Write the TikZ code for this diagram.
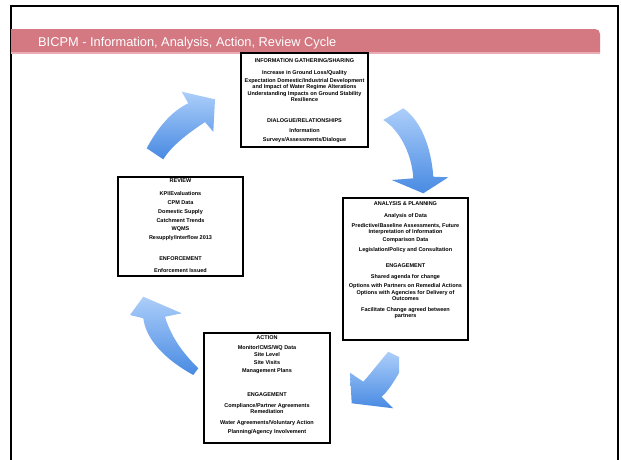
\documentclass[tikz,border=0pt]{standalone}
\usepackage{fontspec}
\setmainfont{Liberation Sans}
\usetikzlibrary{calc}
\definecolor{barred}{RGB}{212,120,130}
\definecolor{barlight}{RGB}{234,172,180}
\definecolor{arrtop}{RGB}{172,206,250}
\definecolor{arrbot}{RGB}{72,138,226}
\tikzset{
  cyclebox/.style={draw=black, line width=1.6pt, fill=white, inner sep=0pt},
  boxtext/.style={font=\bfseries\fontsize{5.5}{6}\selectfont, align=center, inner sep=0pt, anchor=north},
  blockarrow/.style={top color=arrtop, bottom color=arrbot, draw=none},
}
\begin{document}
\begin{tikzpicture}[x=1pt,y=-1pt]
\useasboundingbox (0,0) rectangle (621,459);
\clip (0,0) rectangle (621,459);
\fill[white] (0,0) rectangle (621,459);
\draw[line width=2pt] (11,6) rectangle (618,480);
% title bar
\fill[barred] (11,53) -- (11,29) -- (595,29) .. controls (598,29) and (600,31) .. (600,34) -- (600,53) -- cycle;
\fill[barlight] (11,52) rectangle (600,54);
\node[anchor=base west, text=white, font=\fontsize{12.8}{15}\selectfont, inner sep=0pt] (title) at (38,46.5) {BICPM - Information, Analysis, Action, Review Cycle};

% boxes
\node[cyclebox, minimum width=127pt, minimum height=94pt] (info) at (304.5,100) {};
\node[cyclebox, minimum width=125pt, minimum height=142pt] (analysis) at (405.5,269) {};
\node[cyclebox, minimum width=125pt, minimum height=99pt] (review) at (180.5,226.5) {};
\node[cyclebox, minimum width=126pt, minimum height=110pt] (action) at (267,388) {};

\node[boxtext] (infot) at (304.5,58) {%
INFORMATION GATHERING/SHARING\\[6.7pt]
Increase in Ground Loss/Quality\\[1.3pt]
Expectation Domestic/Industrial Development\\
and Impact of Water Regime Alterations\\[1.3pt]
Understanding Impacts on Ground Stability\\
Resilience\\[14.7pt]
DIALOGUE/RELATIONSHIPS\\[4pt]
Information\\[3.3pt]
Surveys/Assessments/Dialogue};

\node[boxtext] (analysist) at (405.5,201) {%
ANALYSIS \& PLANNING\\[6pt]
Analysis of Data\\[4pt]
Predictive/Baseline Assessments, Future\\
Interpretation of Information\\[2pt]
Comparison Data\\[4pt]
Legislation/Policy and Consultation\\[10pt]
ENGAGEMENT\\[5pt]
Shared agenda for change\\[3pt]
Options with Partners on Remedial Actions\\[1pt]
Options with Agencies for Delivery of\\
Outcomes\\[5pt]
Facilitate Change agreed between\\
partners};

\node[boxtext] (reviewt) at (180.5,179) {%
REVIEW\\[7pt]
KPI/Evaluations\\[3pt]
CPM Data\\[3pt]
Domestic Supply\\[3pt]
Catchment Trends\\[2pt]
WQMS\\[3pt]
Resupply/Interflow 2013\\[15pt]
ENFORCEMENT\\[6pt]
Enforcement Issued};

\node[boxtext] (actiont) at (267,335) {%
ACTION\\[4pt]
Monitor/CMS/WQ Data\\[1pt]
Site Level\\[2pt]
Site Visits\\[2pt]
Management Plans\\[18pt]
ENGAGEMENT\\[5pt]
Compliance/Partner Agreements\\
Remediation\\[5pt]
Water Agreements/Voluntary Action\\[3pt]
Planning/Agency Involvement};

% block arrows
\shade[blockarrow] (146.7,148.3) .. controls (158,127) and (172,111) .. (188.3,103.3)
  -- (181.7,91.7) -- (215,99.3) -- (213.3,131.7) -- (205,122)
  .. controls (190,132) and (172,145) .. (163.3,159.3) -- cycle;
\shade[blockarrow] (383.3,120) -- (403.3,108.3)
  .. controls (420,120) and (431,145) .. (433.3,176.7)
  -- (448.3,177.3) -- (423.3,193.3) -- (391.7,180) -- (413.3,178.3)
  .. controls (412,155) and (400,130) .. cycle;
\shade[blockarrow] (388.3,351.7) -- (399,357) -- (399,373)
  .. controls (393,383) and (388,391) .. (381.7,396.7)
  -- (393.3,408.3) -- (351.7,403.3) -- (350,372.7) -- (363.3,381.7)
  .. controls (372,372) and (381,360) .. cycle;
\shade[blockarrow] (143.3,296.7) -- (181.7,313.3) -- (165,316.7)
  .. controls (172,340) and (186,356) .. (198.3,368.3)
  -- (193.3,375)
  .. controls (166,360) and (146,340) .. (143.3,318.3)
  -- (130,315) -- cycle;
\end{tikzpicture}
\end{document}
